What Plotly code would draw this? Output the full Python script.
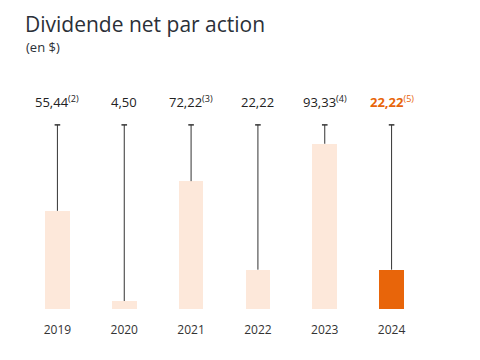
import plotly.graph_objects as go

years = ["2019", "2020", "2021", "2022", "2023", "2024"]
values = [55.44, 4.50, 72.22, 22.22, 93.33, 22.22]
labels = ["55,44", "4,50", "72,22", "22,22", "93,33", "22,22"]
notes = ["(2)", "", "(3)", "", "(4)", "(5)"]
bar_colors = ["#fde8da", "#fde8da", "#fde8da", "#fde8da", "#fde8da", "#e8650a"]
line_top = 104
label_y = 117
ymax = 123.7

fig = go.Figure()
fig.add_trace(go.Bar(x=years, y=values, marker=dict(color=bar_colors, line=dict(width=0)),
                     width=0.37, hoverinfo="skip", showlegend=False))
for yr, v in zip(years, values):
    fig.add_trace(go.Scatter(x=[yr, yr], y=[v, line_top], mode="lines",
                             line=dict(color="#333333", width=1), showlegend=False, hoverinfo="skip"))
    fig.add_trace(go.Scatter(x=[yr], y=[line_top], mode="markers",
                             marker=dict(symbol="line-ew", size=4, line=dict(color="#333333", width=1.5)),
                             showlegend=False, hoverinfo="skip"))

for i, (yr, lab, n) in enumerate(zip(years, labels, notes)):
    last = i == len(years) - 1
    color = "#e8650a" if last else "#222222"
    txt = f"<b>{lab}</b>" if last else lab
    if n:
        txt += f"<sup>{n}</sup>"
    fig.add_annotation(x=i, y=label_y, text=txt, showarrow=False,
                       font=dict(size=13, color=color, family="Open Sans"))

fig.add_annotation(xref="paper", yref="paper", x=0, y=1, xanchor="left", yanchor="bottom",
                   yshift=51, text="Dividende net par action", showarrow=False, borderpad=0,
                   font=dict(size=21, color="#2b3038", family="Open Sans", weight=500))
fig.add_annotation(xref="paper", yref="paper", x=0, y=1, xanchor="left", yanchor="bottom",
                   yshift=32, text="(en $)", showarrow=False,
                   font=dict(size=13, color="#2b3038", family="Open Sans"))

fig.update_layout(
    width=480, height=360,
    margin=dict(l=15.5, r=62.5, t=82, b=59),
    plot_bgcolor="white", paper_bgcolor="white",
    bargap=0,
    xaxis=dict(type="category", range=[-0.5, 5.5], showgrid=False, showline=False,
               zeroline=False, ticks="", ticklabelstandoff=12,
               tickfont=dict(size=12, color="#333333", family="Open Sans")),
    yaxis=dict(range=[0, ymax], visible=False, showgrid=False, zeroline=False),
)
fig.write_html("out.html")
